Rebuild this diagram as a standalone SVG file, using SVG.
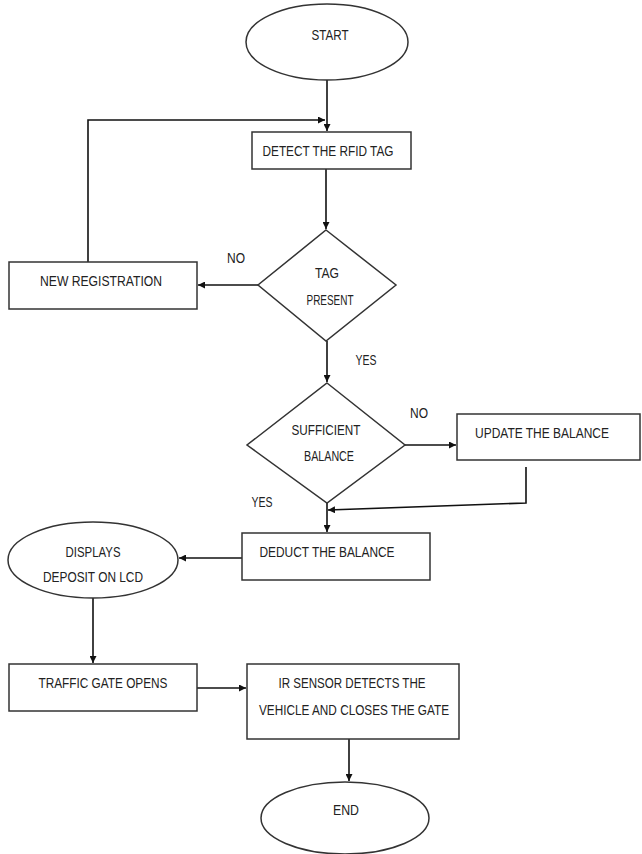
<svg xmlns="http://www.w3.org/2000/svg" width="642" height="854" viewBox="0 0 642 854">
<defs>
<style>
.s{fill:#fff;stroke:#333;stroke-width:1.5}
.t{font-family:"Liberation Sans Narrow","Liberation Sans",Arial,sans-serif;font-size:15px;fill:#222;text-anchor:middle}
.c{fill:none;stroke:#111;stroke-width:1.6}
</style>
<marker id="a" viewBox="0 0 10 10" refX="10" refY="5" markerWidth="7" markerHeight="7" markerUnits="userSpaceOnUse" orient="auto">
<path d="M0,0 L10,5 L0,10 z" fill="#111"/>
</marker>
</defs>
<rect width="642" height="854" fill="#fff"/>
<g id="connectors">
<path class="c" d="M327,80 V131" marker-end="url(#a)"/>
<path class="c" d="M88,262 V120 H325" marker-end="url(#a)"/>
<path class="c" d="M326,169 V229" marker-end="url(#a)"/>
<path class="c" d="M258,285 H198" marker-end="url(#a)"/>
<path class="c" d="M327,341 V382" marker-end="url(#a)"/>
<path class="c" d="M405,445 H456" marker-end="url(#a)"/>
<path class="c" d="M526,467 V503 L328,510" marker-end="url(#a)"/>
<path class="c" d="M327,503 V532" marker-end="url(#a)"/>
<path class="c" d="M242,558 H179" marker-end="url(#a)"/>
<path class="c" d="M93,598 V663" marker-end="url(#a)"/>
<path class="c" d="M197,688 H246" marker-end="url(#a)"/>
<path class="c" d="M349,739 V781" marker-end="url(#a)"/>
</g>
<g id="start">
<ellipse class="s" cx="327" cy="42" rx="81" ry="38"/>
<text class="t" x="330" y="40" textLength="37" lengthAdjust="spacingAndGlyphs">START</text>
</g>
<g id="detect">
<rect class="s" x="252" y="132" width="159" height="37"/>
<text class="t" x="328" y="156" textLength="131" lengthAdjust="spacingAndGlyphs">DETECT THE RFID TAG</text>
</g>
<g id="tag-present">
<polygon class="s" points="326,230 396,285 326,341 258,285"/>
<text class="t" x="327" y="278" textLength="24" lengthAdjust="spacingAndGlyphs">TAG</text>
<text class="t" x="330" y="305" textLength="47" lengthAdjust="spacingAndGlyphs">PRESENT</text>
</g>
<g id="new-registration">
<rect class="s" x="9" y="262" width="188" height="47"/>
<text class="t" x="101" y="286" textLength="122" lengthAdjust="spacingAndGlyphs">NEW REGISTRATION</text>
</g>
<g id="sufficient">
<polygon class="s" points="327,383 405,445 327,503 247,445"/>
<text class="t" x="326" y="435" textLength="69" lengthAdjust="spacingAndGlyphs">SUFFICIENT</text>
<text class="t" x="329" y="461" textLength="50" lengthAdjust="spacingAndGlyphs">BALANCE</text>
</g>
<g id="update">
<rect class="s" x="457" y="414" width="183" height="46"/>
<text class="t" x="542" y="438" textLength="134" lengthAdjust="spacingAndGlyphs">UPDATE THE BALANCE</text>
</g>
<g id="deduct">
<rect class="s" x="242" y="533" width="188" height="47"/>
<text class="t" x="327" y="557" textLength="135" lengthAdjust="spacingAndGlyphs">DEDUCT THE BALANCE</text>
</g>
<g id="displays">
<ellipse class="s" cx="93" cy="560" rx="85" ry="38"/>
<text class="t" x="93" y="557" textLength="55" lengthAdjust="spacingAndGlyphs">DISPLAYS</text>
<text class="t" x="93" y="582" textLength="100" lengthAdjust="spacingAndGlyphs">DEPOSIT ON LCD</text>
</g>
<g id="traffic-gate">
<rect class="s" x="9" y="664" width="188" height="47"/>
<text class="t" x="103" y="688" textLength="129" lengthAdjust="spacingAndGlyphs">TRAFFIC GATE OPENS</text>
</g>
<g id="ir-sensor">
<rect class="s" x="247" y="664" width="212" height="75"/>
<text class="t" x="352" y="688" textLength="147" lengthAdjust="spacingAndGlyphs">IR SENSOR DETECTS THE</text>
<text class="t" x="354" y="715" textLength="190" lengthAdjust="spacingAndGlyphs">VEHICLE AND CLOSES THE GATE</text>
</g>
<g id="end">
<ellipse class="s" cx="345" cy="818" rx="84" ry="36"/>
<text class="t" x="346" y="815" textLength="26" lengthAdjust="spacingAndGlyphs">END</text>
</g>
<g id="labels">
<text class="t" x="236" y="263" textLength="18" lengthAdjust="spacingAndGlyphs">NO</text>
<text class="t" x="366" y="365" textLength="21" lengthAdjust="spacingAndGlyphs">YES</text>
<text class="t" x="419" y="418" textLength="18" lengthAdjust="spacingAndGlyphs">NO</text>
<text class="t" x="262" y="507" textLength="21" lengthAdjust="spacingAndGlyphs">YES</text>
</g>
</svg>
